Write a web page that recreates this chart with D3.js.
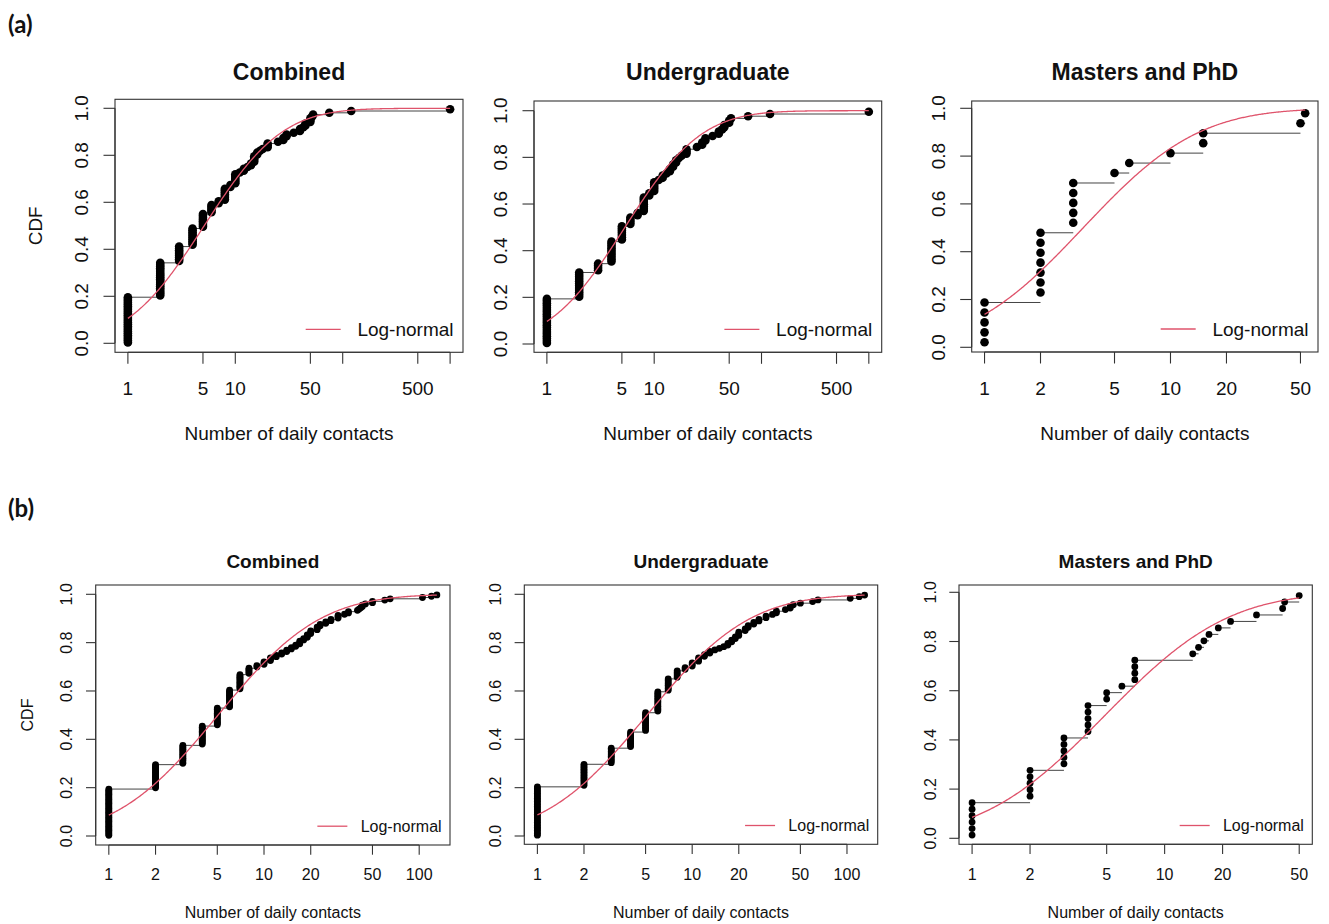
<!DOCTYPE html>
<html>
<head>
<meta charset="utf-8">
<script src="https://cdn.jsdelivr.net/npm/d3@7"></script>
<style>
  body { margin: 0; background: #fff; }
  svg { display: block; }
  text { font-family: "Liberation Sans", Arial, Helvetica, sans-serif; fill: #111; }
</style>
</head>
<body>
<svg id="fig" width="1329" height="924"></svg>
<script>
// ---- Survey (a): daily contacts, distinct values and how often each was reported ----
const ugA_values = [1, 2, 3, 4, 5, 6, 7, 8, 9, 10, 11, 12, 13, 14, 15, 16, 17, 18, 20, 25, 28, 30, 35, 40, 43, 45, 50, 52, 75, 120, 1000];
const ugA_counts = [21, 12, 4, 10, 7, 4, 2, 7, 2, 5, 1, 2, 1, 2, 2, 2, 1, 1, 3, 1, 2, 2, 1, 2, 1, 2, 2, 1, 1, 1, 1];
const pgA_values = [1, 2, 3, 5, 6, 10, 15, 50, 53];
const pgA_counts = [5, 7, 5, 1, 1, 1, 2, 1, 1];

// ---- Survey (b) ----
const ugB_values = [1, 2, 3, 4, 5, 6, 7, 8, 9, 10, 11, 12, 13, 14, 15, 16, 17, 18, 19, 20, 22, 23, 25, 27, 30, 33, 35, 40, 43, 45, 50, 60, 65, 105, 120, 130];
const ugB_counts = [31, 14, 10, 10, 12, 13, 8, 5, 2, 3, 3, 2, 2, 1, 1, 1, 2, 2, 2, 3, 2, 2, 2, 2, 2, 1, 2, 1, 2, 1, 1, 1, 1, 1, 1, 1];
const pgB_values = [1, 2, 3, 4, 5, 6, 7, 14, 15, 16, 17, 19, 22, 30, 41, 42, 50];
const pgB_counts = [6, 5, 5, 5, 2, 1, 4, 1, 1, 1, 1, 1, 1, 1, 1, 1, 1];

// ---- Fitted log-normal parameters: [Combined, Undergraduate, Masters and PhD] ----
const meanlogA = [1.635, 1.674, 1.222];
const sdlogA   = [1.31, 1.288, 1.12];
const meanlogB = [1.62, 1.63, 1.59];
const sdlogB   = [1.19, 1.20, 1.16];

// ---- Axis ticks ----
const panelTitles = ["Combined", "Undergraduate", "Masters and PhD"];
const yTicks = [0, 0.2, 0.4, 0.6, 0.8, 1.0];
const xTicksWide = [1, 5, 10, 50, 100, 500, 1000];
const xLabelsWide = [1, 5, 10, 50, 500];
const xTicksMid = [1, 2, 5, 10, 20, 50, 100];
const xTicksNarrow = [1, 2, 5, 10, 20, 50];

// Combined sample = union of both groups
function mergeCounts(v1, c1, v2, c2) {
  const m = new Map();
  v1.forEach((v, i) => m.set(v, (m.get(v) || 0) + c1[i]));
  v2.forEach((v, i) => m.set(v, (m.get(v) || 0) + c2[i]));
  const vals = Array.from(m.keys()).sort((a, b) => a - b);
  return { values: vals, counts: vals.map(v => m.get(v)) };
}
const combA = mergeCounts(ugA_values, ugA_counts, pgA_values, pgA_counts);
const combB = mergeCounts(ugB_values, ugB_counts, pgB_values, pgB_counts);

// Standard normal CDF (Abramowitz & Stegun 7.1.26 erf)
function pnorm(z) {
  const x = Math.abs(z) / Math.SQRT2;
  const t = 1 / (1 + 0.3275911 * x);
  const y = 1 - (((((1.061405429 * t - 1.453152027) * t) + 1.421413741) * t - 0.284496736) * t + 0.254829592) * t * Math.exp(-x * x);
  return z >= 0 ? 0.5 * (1 + y) : 0.5 * (1 - y);
}
const plnorm = (x, ml, sl) => pnorm((Math.log(x) - ml) / sl);

// Row styles
const rowA = { title: 23, text: 19, titleBase: 79.5, tickBase: 395, xlabBase: 440, tick: 11.5,
               ylabOff: 27, cdfOff: 73.3, r: 4.3, legGap: 9.5, legUp: 23, legLine: [51.7, 16.7] };
const rowB = { title: 19, text: 16, titleBase: 568.3, tickBase: 880, xlabBase: 918.3, tick: 9.7,
               ylabOff: 23.5, cdfOff: 62.4, r: 3.4, legGap: 8.4, legUp: 18.8, legLine: [43.3, 13.3] };

const panels = [
  { row: rowA, data: combA, ml: meanlogA[0], sl: sdlogA[0], title: panelTitles[0], cdf: true,
    box: [115, 99.3, 463, 352.3], y0: 343.3, y1: 108.3, ticks: xTicksWide, labels: xLabelsWide },
  { row: rowA, data: { values: ugA_values, counts: ugA_counts }, ml: meanlogA[1], sl: sdlogA[1], title: panelTitles[1],
    box: [534, 101, 881.7, 352.3], y0: 344, y1: 110.7, ticks: xTicksWide, labels: xLabelsWide },
  { row: rowA, data: { values: pgA_values, counts: pgA_counts }, ml: meanlogA[2], sl: sdlogA[2], title: panelTitles[2],
    box: [971.7, 101, 1318, 352], y0: 347.3, y1: 108.3, ticks: xTicksNarrow, labels: xTicksNarrow },
  { row: rowB, data: combB, ml: meanlogB[0], sl: sdlogB[0], title: panelTitles[0], cdf: true,
    box: [95.7, 585, 450, 845], y0: 836, y1: 594.3, ticks: xTicksMid, labels: xTicksMid },
  { row: rowB, data: { values: ugB_values, counts: ugB_counts }, ml: meanlogB[1], sl: sdlogB[1], title: panelTitles[1],
    box: [524.3, 585, 877.7, 844.3], y0: 836, y1: 594.3, ticks: xTicksMid, labels: xTicksMid },
  { row: rowB, data: { values: pgB_values, counts: pgB_counts }, ml: meanlogB[2], sl: sdlogB[2], title: panelTitles[2],
    box: [959, 585, 1312.3, 844.3], y0: 838.3, y1: 592.3, ticks: xTicksNarrow, labels: xTicksNarrow }
];

const svg = d3.select("#fig");
const RED = "#DF536B";

// Section labels
svg.append("text").attr("x", 8).attr("y", 32.5).style("font-family", "Lato, 'Open Sans', sans-serif")
  .style("font-weight", 700).style("font-size", "24px").text("(a)");
svg.append("text").attr("x", 8).attr("y", 517).style("font-family", "Lato, 'Open Sans', sans-serif")
  .style("font-weight", 700).style("font-size", "24px").text("(b)");

panels.forEach(p => {
  const [l, t, r, b] = p.box;
  const st = p.row;
  const vals = p.data.values, cnts = p.data.counts;
  const n = d3.sum(cnts);
  const lo = Math.log10(vals[0]), hi = Math.log10(vals[vals.length - 1]);
  const ext = 0.04 * (hi - lo);
  const x = d3.scaleLog().domain([Math.pow(10, lo - ext), Math.pow(10, hi + ext)]).range([l, r]);
  const y = d3.scaleLinear().domain([0, 1]).range([p.y0, p.y1]);
  const g = svg.append("g");

  // Empirical CDF points (plotting positions (i - 0.5) / n)
  const pts = [];
  const stepTops = [];
  let k = 0;
  vals.forEach((v, j) => {
    for (let c = 0; c < cnts[j]; c++) { pts.push([v, (k + 0.5) / n]); k++; }
    stepTops.push((k - 0.5) / n);
  });

  // Horizontal steps between consecutive observed values
  g.selectAll("line.step").data(vals.slice(0, -1)).enter().append("line")
    .attr("x1", d => x(d)).attr("x2", (d, j) => x(vals[j + 1]))
    .attr("y1", (d, j) => y(stepTops[j])).attr("y2", (d, j) => y(stepTops[j]))
    .attr("stroke", "#444").attr("stroke-width", 1);

  g.selectAll("circle").data(pts).enter().append("circle")
    .attr("cx", d => x(d[0])).attr("cy", d => y(d[1])).attr("r", st.r).attr("fill", "#000");

  // Fitted log-normal CDF over the observed range
  const xs = d3.range(0, 301).map(i => Math.pow(10, lo + (hi - lo) * i / 300));
  g.append("path").datum(xs)
    .attr("d", d3.line().x(d => x(d)).y(d => y(plnorm(d, p.ml, p.sl))))
    .attr("fill", "none").attr("stroke", RED).attr("stroke-width", 1.3);

  // Frame
  g.append("rect").attr("x", l).attr("y", t).attr("width", r - l).attr("height", b - t)
    .attr("fill", "none").attr("stroke", "#333").attr("stroke-width", 1.1);

  // x axis
  const xa = g.append("g");
  xa.append("line").attr("x1", x(p.ticks[0])).attr("x2", x(p.ticks[p.ticks.length - 1]))
    .attr("y1", b).attr("y2", b).attr("stroke", "#333").attr("stroke-width", 1.1);
  xa.selectAll("line.t").data(p.ticks).enter().append("line")
    .attr("x1", d => x(d)).attr("x2", d => x(d)).attr("y1", b).attr("y2", b + st.tick)
    .attr("stroke", "#333").attr("stroke-width", 1.1);
  xa.selectAll("text").data(p.labels).enter().append("text")
    .attr("x", d => x(d)).attr("y", st.tickBase).attr("text-anchor", "middle")
    .style("font-size", st.text + "px").text(d => d);

  // y axis
  const ya = g.append("g");
  ya.append("line").attr("x1", l).attr("x2", l).attr("y1", y(0)).attr("y2", y(1))
    .attr("stroke", "#333").attr("stroke-width", 1.1);
  ya.selectAll("line.t").data(yTicks).enter().append("line")
    .attr("x1", l - st.tick).attr("x2", l).attr("y1", d => y(d)).attr("y2", d => y(d))
    .attr("stroke", "#333").attr("stroke-width", 1.1);
  ya.selectAll("text").data(yTicks).enter().append("text")
    .attr("transform", d => `translate(${l - st.ylabOff},${y(d)}) rotate(-90)`)
    .attr("text-anchor", "middle").style("font-size", st.text + "px").text(d => d.toFixed(1));

  // Titles and axis labels
  g.append("text").attr("x", (l + r) / 2).attr("y", st.titleBase).attr("text-anchor", "middle")
    .style("font-size", st.title + "px").style("font-weight", 700).text(p.title);
  g.append("text").attr("x", (l + r) / 2).attr("y", st.xlabBase).attr("text-anchor", "middle")
    .style("font-size", st.text + "px").text("Number of daily contacts");
  if (p.cdf) {
    g.append("text").attr("transform", `translate(${l - st.cdfOff},${(t + b) / 2}) rotate(-90)`)
      .attr("text-anchor", "middle").style("font-size", st.text + "px").text("CDF");
  }

  // Legend (bottom right, no frame)
  const legText = g.append("text").attr("x", r - st.legGap).attr("y", b - st.legUp)
    .attr("text-anchor", "end").attr("dominant-baseline", "central")
    .style("font-size", st.text + "px").text("Log-normal");
  const tx = legText.node().getBBox().x;
  g.append("line").attr("x1", tx - st.legLine[0]).attr("x2", tx - st.legLine[1])
    .attr("y1", b - st.legUp).attr("y2", b - st.legUp).attr("stroke", RED).attr("stroke-width", 1.3);
});
</script>
</body>
</html>
